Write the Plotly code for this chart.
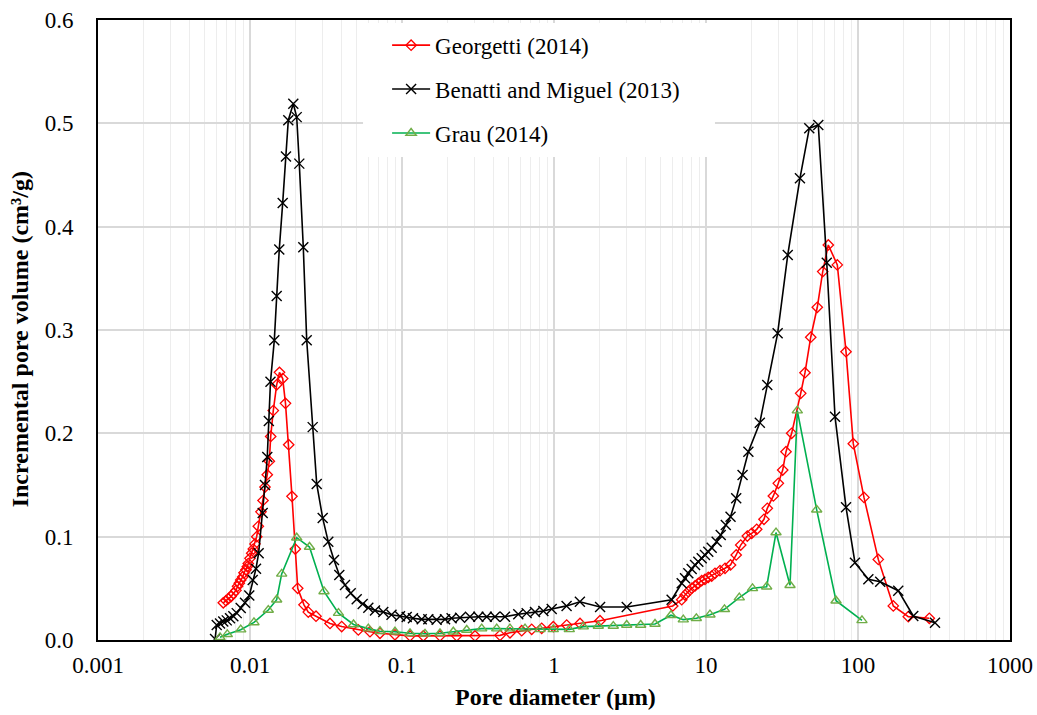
import plotly.graph_objects as go

# Pore size distributions (incremental pore volume vs pore diameter)
georgetti_d = [0.00667, 0.00695, 0.0072, 0.0075, 0.00777, 0.00809, 0.00828, 0.0085, 0.00869, 0.00895,
               0.00913, 0.00941, 0.0096, 0.00974, 0.0100, 0.01026, 0.01051, 0.01079, 0.01107, 0.01134,
               0.01181, 0.01218, 0.01255, 0.01299, 0.0134, 0.01368, 0.01423, 0.01498, 0.01563,
               0.01641, 0.01712, 0.01797, 0.01889, 0.01986, 0.0206, 0.02266, 0.02418, 0.02718, 0.0336,
               0.04011, 0.05159, 0.06158, 0.07165, 0.0899, 0.1129, 0.1381, 0.1778, 0.2291, 0.3022,
               0.4413, 0.5134, 0.6132, 0.7133, 0.8299, 0.9895, 1.212, 1.483, 2.007,
               6.04, 6.92, 7.28, 7.65, 8.05, 8.47, 8.90, 9.37, 9.85, 10.35,
               10.9, 11.46, 12.36, 13.34, 14.5, 15.8, 16.92, 18.7, 19.98, 21.56,
               24.07, 25.3, 27.73, 29.9, 31.96, 33.6, 36.6, 41.98, 44.8, 48.86,
               53.97, 58.6, 63.78, 73.1, 83.4, 93.1, 109.5, 136, 170.7, 214.2, 294.5]
georgetti_v = [0.036, 0.038, 0.040, 0.042, 0.045, 0.048, 0.052, 0.055, 0.058, 0.061,
               0.065, 0.068, 0.071, 0.074, 0.079, 0.084, 0.088, 0.093, 0.100, 0.110,
               0.124, 0.135, 0.148, 0.160, 0.173, 0.197, 0.222, 0.247, 0.259,
               0.253, 0.229, 0.189, 0.139, 0.088, 0.050, 0.034, 0.027, 0.023, 0.016,
               0.013, 0.0097, 0.008, 0.0065, 0.005, 0.004, 0.004, 0.004, 0.004, 0.004,
               0.0045, 0.007, 0.009, 0.0103, 0.0113, 0.0129, 0.0145, 0.016, 0.0187,
               0.0329, 0.039, 0.0435, 0.0468, 0.050, 0.0523, 0.0549, 0.0574, 0.0587, 0.0606,
               0.0619, 0.0645, 0.0671, 0.0694, 0.0726, 0.0823, 0.0919, 0.1006, 0.1032, 0.1071,
               0.1168, 0.1274, 0.1394, 0.1516, 0.1645, 0.1822, 0.200, 0.2387, 0.2587, 0.293,
               0.322, 0.3565, 0.3823, 0.363, 0.279, 0.190, 0.138, 0.078, 0.033, 0.0226, 0.021]

benatti_d = [0.00589, 0.00604, 0.00635, 0.00667, 0.00703, 0.00739, 0.00777, 0.00818, 0.00869, 0.00927,
             0.00989, 0.01042, 0.01095, 0.0114, 0.01212, 0.01255, 0.01299, 0.0133, 0.01364, 0.01445,
             0.01498, 0.01558, 0.01641, 0.01725, 0.01786, 0.01927,
             0.02029, 0.0211, 0.02242, 0.02361, 0.02585, 0.02747, 0.03008, 0.03274, 0.03569, 0.03868,
             0.04217, 0.04598, 0.05035, 0.05513, 0.06003, 0.06644, 0.0753, 0.0853, 0.097, 0.1074,
             0.118, 0.1348, 0.149, 0.169, 0.192, 0.212, 0.241, 0.280, 0.318, 0.361,
             0.409, 0.476, 0.582, 0.661, 0.750, 0.851, 0.966, 1.21, 1.48, 2.01,
             3.01, 5.94,
             6.92, 7.28, 7.65, 8.05, 8.47, 8.90, 9.37, 9.85, 10.35, 10.9,
             11.75, 12.5, 13.5, 14.5, 15.8, 17.4, 19.0, 22.6, 25.3, 29.6,
             34.5, 41.5, 47.8, 54.8, 62.3, 70.6, 83.4, 95.5, 117, 140,
             184, 231, 321]
benatti_v = [0.001, 0.0145, 0.016, 0.018, 0.019, 0.021, 0.023, 0.026, 0.031, 0.036,
             0.043, 0.058, 0.069, 0.084, 0.123, 0.150, 0.177, 0.212, 0.250, 0.290,
             0.333, 0.378, 0.423, 0.468, 0.503, 0.519,
             0.506, 0.461, 0.380, 0.290, 0.206, 0.151, 0.118, 0.095, 0.0774, 0.0629,
             0.0532, 0.0452, 0.0394, 0.0348, 0.0313, 0.0285, 0.027, 0.0245, 0.023, 0.0222,
             0.021, 0.020, 0.020, 0.0195, 0.020, 0.021, 0.0215, 0.0225, 0.0225, 0.0225,
             0.0225, 0.0225, 0.025, 0.026, 0.027, 0.028, 0.030, 0.033, 0.037, 0.032,
             0.032, 0.039,
             0.0549, 0.0597, 0.0645, 0.0687, 0.0726, 0.0758, 0.0791, 0.0823, 0.0855, 0.0893,
             0.0951, 0.1016, 0.1113, 0.1193, 0.1371, 0.1597, 0.1822, 0.2103, 0.2468, 0.2968,
             0.3726, 0.4468, 0.4952, 0.4984, 0.3651, 0.2161, 0.1284, 0.0748, 0.0587, 0.0564,
             0.0477, 0.0232, 0.0167]

grau_d = [0.00635, 0.00709, 0.00869, 0.01062, 0.01319, 0.01498, 0.01616, 0.02029, 0.02463, 0.03068,
          0.03821, 0.04798, 0.06003, 0.07165, 0.0899, 0.1129, 0.1417, 0.1778, 0.2176, 0.2665,
          0.3344, 0.4198, 0.5134, 0.6446, 0.8089, 0.9895, 1.261, 1.559, 1.956, 2.455,
          3.009, 3.719, 4.618, 5.885, 7.09, 8.64, 10.62, 13.23, 16.56, 20.23,
          25.07, 28.88, 35.7, 39.88, 53.5, 71.7, 106.2]
grau_v = [0.0026, 0.0055, 0.010, 0.017, 0.029, 0.039, 0.064, 0.099, 0.090, 0.047,
          0.026, 0.015, 0.011, 0.0085, 0.008, 0.0065, 0.006, 0.0065, 0.008, 0.0097,
          0.011, 0.011, 0.011, 0.011, 0.0103, 0.0103, 0.0103, 0.0129, 0.0135, 0.0135,
          0.0145, 0.0145, 0.0155, 0.024, 0.0197, 0.021, 0.0245, 0.0297, 0.041, 0.050,
          0.0516, 0.104, 0.053, 0.222, 0.126, 0.038, 0.019]

x_ticks = [0.001, 0.01, 0.1, 1, 10, 100, 1000]
x_tick_text = ["0.001", "0.01", "0.1", "1", "10", "100", "1000"]
y_ticks = [0.0, 0.1, 0.2, 0.3, 0.4, 0.5, 0.6]
y_tick_text = ["0.0", "0.1", "0.2", "0.3", "0.4", "0.5", "0.6"]

FONT = "Liberation Serif"

fig = go.Figure()

fig.add_trace(go.Scatter(
    x=georgetti_d, y=georgetti_v, name="Georgetti (2014)", mode="lines+markers",
    legendgroup="g1",
    line=dict(color="#ff0000", width=1.6),
    marker=dict(symbol="diamond-open", size=8, color="#ff0000", line=dict(width=1.3, color="#ff0000")),
))
fig.add_trace(go.Scatter(
    x=benatti_d, y=benatti_v, name="Benatti and Miguel (2013)", mode="lines+markers",
    legendgroup="g2",
    line=dict(color="#000000", width=1.6),
    marker=dict(symbol="x-thin", size=10, color="#000000", line=dict(width=1.4, color="#000000")),
))
fig.add_trace(go.Scatter(
    x=grau_d, y=grau_v, name="Grau (2014)", mode="lines+markers",
    legendgroup="g3",
    line=dict(color="#00b050", width=1.6),
    marker=dict(symbol="triangle-up-open", size=9, color="#70ad47", line=dict(width=1.4, color="#70ad47")),
))

# minor gridlines at 2..9 within each decade
minor_vals = [m * d for d in x_ticks[:-1] for m in range(2, 10)]

fig.update_xaxes(
    type="log", range=[-3, 3], automargin=False,
    tickmode="array", tickvals=x_ticks, ticktext=x_tick_text, ticks="", ticklabelstandoff=4,
    tickfont=dict(family=FONT, size=23, color="#000000"),
    showgrid=True, gridcolor="#d9d9d9", gridwidth=1.5,
    minor=dict(tickvals=minor_vals, showgrid=True, gridcolor="#ededed", gridwidth=1.2, ticks=""),
    showline=True, linecolor="#000000", linewidth=1.6, mirror=True,
    zeroline=False,
)
fig.update_yaxes(
    range=[0, 0.6], automargin=False,
    tickmode="array", tickvals=y_ticks, ticktext=y_tick_text, ticks="", ticklabelstandoff=18,
    tickfont=dict(family=FONT, size=23, color="#000000"),
    showgrid=True, gridcolor="#d9d9d9", gridwidth=1.5,
    showline=True, linecolor="#000000", linewidth=1.6, mirror=True,
    zeroline=False,
)

# white panel behind the legend (the region holds no data, only gridlines)
fig.add_shape(
    type="rect", xref="paper", yref="paper",
    x0=0.2906, x1=0.6765, y0=0.779, y1=0.995,
    fillcolor="#ffffff", line=dict(width=0), layer="above",
)

fig.add_annotation(
    text="<b>Pore diameter (µm)</b>", xref="paper", yref="paper", x=0.502, y=-0.092,
    showarrow=False, font=dict(family=FONT, size=24, color="#000000"),
    xanchor="center", yanchor="middle",
)
fig.add_annotation(
    text="<b>Incremental pore volume (cm³/g)</b>", xref="paper", yref="paper", x=-0.0855, y=0.485,
    showarrow=False, textangle=-90, font=dict(family=FONT, size=24, color="#000000"),
    xanchor="center", yanchor="middle",
)

fig.update_layout(
    template="none",
    width=1037, height=715,
    margin=dict(l=98, r=27, t=20, b=75),
    paper_bgcolor="#ffffff", plot_bgcolor="#ffffff",
    font=dict(family=FONT, size=23, color="#000000"),
    legend=dict(
        x=0.317, y=0.994, xanchor="left", yanchor="top",
        bgcolor="rgba(255,255,255,0)", borderwidth=0,
        font=dict(family=FONT, size=23, color="#000000"),
        tracegroupgap=11, traceorder="grouped", itemwidth=38,
    ),
)

fig.write_html("out.html")
